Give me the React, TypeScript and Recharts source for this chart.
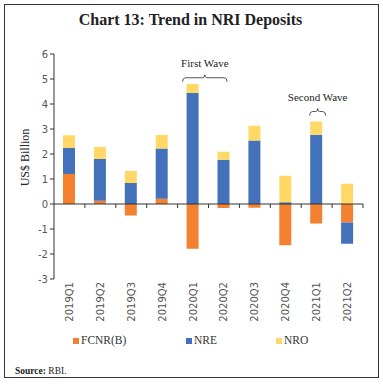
import { BarChart, Bar, XAxis, YAxis, ReferenceLine, ReferenceDot } from "recharts";

const quarters = ["2019Q1", "2019Q2", "2019Q3", "2019Q4", "2020Q1", "2020Q2", "2020Q3", "2020Q4", "2021Q1", "2021Q2"];
const fcnr = [1.2, 0.13, -0.46, 0.21, -1.79, -0.16, -0.15, -1.65, -0.78, -0.74];
const nre = [1.05, 1.67, 0.84, 2.01, 4.44, 1.77, 2.54, 0.07, 2.77, -0.85];
const nro = [0.5, 0.48, 0.48, 0.54, 0.36, 0.32, 0.59, 1.06, 0.53, 0.81];
const yTicks = [-3, -2, -1, 0, 1, 2, 3, 4, 5, 6];

const COLORS = { fcnr: "#F4812F", nre: "#4371BA", nro: "#FFD866" };
const SERIF = "'Liberation Serif', 'DejaVu Serif', serif";
const SANS = "'DejaVu Sans', Verdana, sans-serif";

const data = quarters.map((q, i) => ({ q, fcnr: fcnr[i], nre: nre[i], nro: nro[i] }));

const XTick = ({ x, y, payload }: any) => (
    <text x={x} y={y} transform={`rotate(-90, ${x}, ${y})`} textAnchor="end" dy="0.35em"
          fontSize={10} fill="#555" fontFamily={SANS}>
        {payload.value}
    </text>
);

// zero line with category boundary ticks
const ZeroLine = (p: any) => {
    const { x1, x2, y1 } = p;
    const w = (x2 - x1) / quarters.length;
    return (
        <g>
            <line x1={x1} x2={x2} y1={y1} y2={y1} stroke="#333" strokeWidth={1} />
            {quarters.map((_, i) => (
                <line key={i} x1={x1 + (i + 1) * w} x2={x1 + (i + 1) * w} y1={y1} y2={y1 + 4} stroke="#333" />
            ))}
        </g>
    );
};

// bracket annotation, drawn around the dot position
const bracket = (text: string, left: number, right: number) => (p: any) => {
    const { cx, cy } = p;
    const l = cx + left;
    const r = cx + right;
    const m = (l + r) / 2;
    return (
        <g>
            <path d={`M${l},${cy + 4} Q${l},${cy} ${l + 3},${cy} L${m - 2},${cy} Q${m},${cy} ${m},${cy - 3} Q${m},${cy} ${m + 2},${cy} L${r - 3},${cy} Q${r},${cy} ${r},${cy + 4}`}
                  fill="none" stroke="#555" strokeWidth={1} />
            <text x={m} y={cy - 11} textAnchor="middle" fontSize={11} fill="#222" fontFamily={SERIF}>{text}</text>
        </g>
    );
};

export default function App() {
    return (
        <div style={{ position: "absolute", left: 0, top: 0, width: 383, height: 384, background: "#fff" }}>
            <div style={{ position: "absolute", left: 4, top: 4, width: 373, height: 372, border: "1.5px solid #333" }} />
            <div style={{ position: "absolute", left: 0, top: 11, width: 381, textAlign: "center", fontFamily: SERIF,
                fontWeight: "bold", fontSize: 16, color: "#222" }}>
                Chart 13: Trend in NRI Deposits
            </div>
            <div style={{ position: "absolute", left: 0, top: 0 }}>
                <BarChart width={383} height={384} data={data} stackOffset="sign"
                          margin={{ top: 54, right: 20, left: 14, bottom: 55 }}>
                    <XAxis dataKey="q" height={50} tickLine={false} axisLine={false} tickSize={0} tickMargin={3}
                           tick={<XTick />} interval={0} />
                    <YAxis domain={[-3, 6]} ticks={yTicks} width={40} tickSize={4} tickMargin={2}
                           axisLine={{ stroke: "#333" }} tickLine={{ stroke: "#333" }}
                           tick={{ fontSize: 10, fill: "#555", fontFamily: SANS }}
                           label={{
                               content: (p: any) => {
                                   const vb = p.viewBox;
                                   const x = vb.x + 14.5;
                                   const y = vb.y + vb.height / 2 - 9;
                                   return (
                                       <text x={x} y={y} transform={`rotate(-90, ${x}, ${y})`} textAnchor="middle"
                                             fontSize={12} fill="#222" fontFamily={SERIF}>US$ Billion</text>
                                   );
                               },
                           }} />
                    <Bar dataKey="fcnr" stackId="a" fill={COLORS.fcnr} barSize={12} isAnimationActive={false} />
                    <Bar dataKey="nre" stackId="a" fill={COLORS.nre} barSize={12} isAnimationActive={false} />
                    <Bar dataKey="nro" stackId="a" fill={COLORS.nro} barSize={12} isAnimationActive={false} />
                    <ReferenceLine y={0} shape={<ZeroLine />} />
                    <ReferenceDot x="2020Q1" y={5.05} ifOverflow="visible" shape={bracket("First Wave", -10.5, 34)} />
                    <ReferenceDot x="2021Q1" y={3.7} ifOverflow="visible" shape={bracket("Second Wave", -7, 9)} />
                </BarChart>
            </div>
            <div style={{ position: "absolute", top: 334, left: 0, width: 383, height: 16, fontFamily: SERIF,
                fontSize: 11.5, color: "#333" }}>
                {[
                    { name: "FCNR(B)", color: COLORS.fcnr, left: 73 },
                    { name: "NRE", color: COLORS.nre, left: 186 },
                    { name: "NRO", color: COLORS.nro, left: 276 },
                ].map((it) => (
                    <span key={it.name} style={{ position: "absolute", left: it.left, top: 0, whiteSpace: "nowrap" }}>
                        <span style={{ display: "inline-block", width: 6, height: 6, background: it.color, marginRight: 2 }} />
                        {it.name}
                    </span>
                ))}
            </div>
            <div style={{ position: "absolute", left: 15, top: 366, fontFamily: SERIF, fontSize: 9.5, color: "#222" }}>
                <b>Source:</b> RBI.
            </div>
        </div>
    );
}
